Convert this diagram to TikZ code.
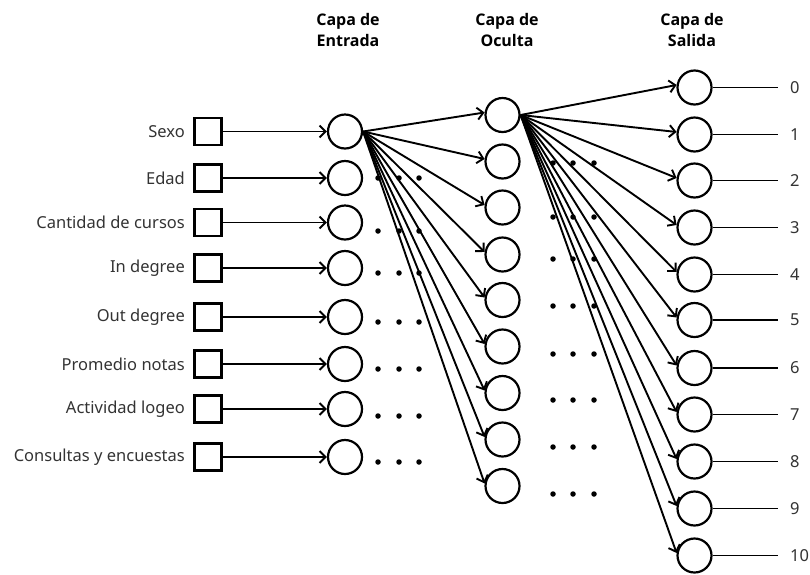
\documentclass[tikz,border=0pt]{standalone}
\usepackage{fontspec}
\setmainfont{Noto Sans}
\newfontfamily\headfont{Open Sans}
\usetikzlibrary{arrows.meta}
\definecolor{labelgray}{HTML}{333333}
\begin{document}
\begin{tikzpicture}[x=1pt,y=-1pt,
  unit/.style={circle, draw, line width=2.2pt, minimum size=34pt, inner sep=0pt},
  inbox/.style={rectangle, draw, line width=2.2pt, minimum size=27pt, inner sep=0pt},
  lbl/.style={text=labelgray, font=\fontsize{16.5}{18}\selectfont, inner sep=0pt},
  head/.style={font=\headfont\bfseries\fontsize{16}{21}\selectfont, align=center, inner sep=0pt},
  wire/.style={line width=1.9pt},
  arr/.style={wire, -{Straight Barb[length=6pt,width=12pt,line width=1.9pt]}},
  dotmark/.style={circle, fill, inner sep=0pt, minimum size=5.5pt}]
\useasboundingbox (0,0) rectangle (810,574);

% layer titles
\node[head] (t1) at (348,30) {Capa de\\Entrada};
\node[head] (t2) at (507,30) {Capa de\\Oculta};
\node[head] (t3) at (692,30) {Capa de\\Salida};

% ellipsis dots between the layers
\foreach \y [count=\k] in {178,231,273,322,369,416,462}
  \foreach \x [count=\j] in {378,399,419}
    \node[dotmark] (da\k\j) at (\x,\y) {};
\foreach \y [count=\k] in {163,217,259,306,354,400,447,494}
  \foreach \x [count=\j] in {553,573,594}
    \node[dotmark] (db\k\j) at (\x,\y) {};

% input features
\foreach \y/\t [count=\k] in {131.5/Sexo, 178/Edad, 222.5/Cantidad de cursos,
    268/In degree, 317/Out degree, 364/Promedio notas, 409/Actividad logeo,
    457/Consultas y encuestas}{
  \node[inbox] (sq\k) at (208,\y) {};
  \node[lbl, anchor=east] (l\k) at (185,\y) {\t};
  \node[unit] (i\k) at (345,\y) {};
  \draw[arr] (sq\k.east) -- (i\k.west);
}

% hidden layer
\foreach \y [count=\k] in {115,161.5,207.5,254.5,300,346.5,393,439.5,486}{
  \node[unit] (h\k) at (502.5,\y) {};
  \draw[arr] (i1.east) -- (h\k.172);
}

% output layer
\foreach \y [count=\k from 0] in {87.5,134.5,180.5,227.5,274.5,320,368,414.5,461.5,508.5,555.5}{
  \node[unit] (o\k) at (694.5,\y) {};
  \coordinate (e\k) at (778,\y);
  \node[lbl, anchor=west] (n\k) at (790,\y) {\k};
  \draw[arr] (h1.east) -- (o\k.172);
  \draw[wire] (o\k.east) -- (e\k);
}
\end{tikzpicture}
\end{document}
